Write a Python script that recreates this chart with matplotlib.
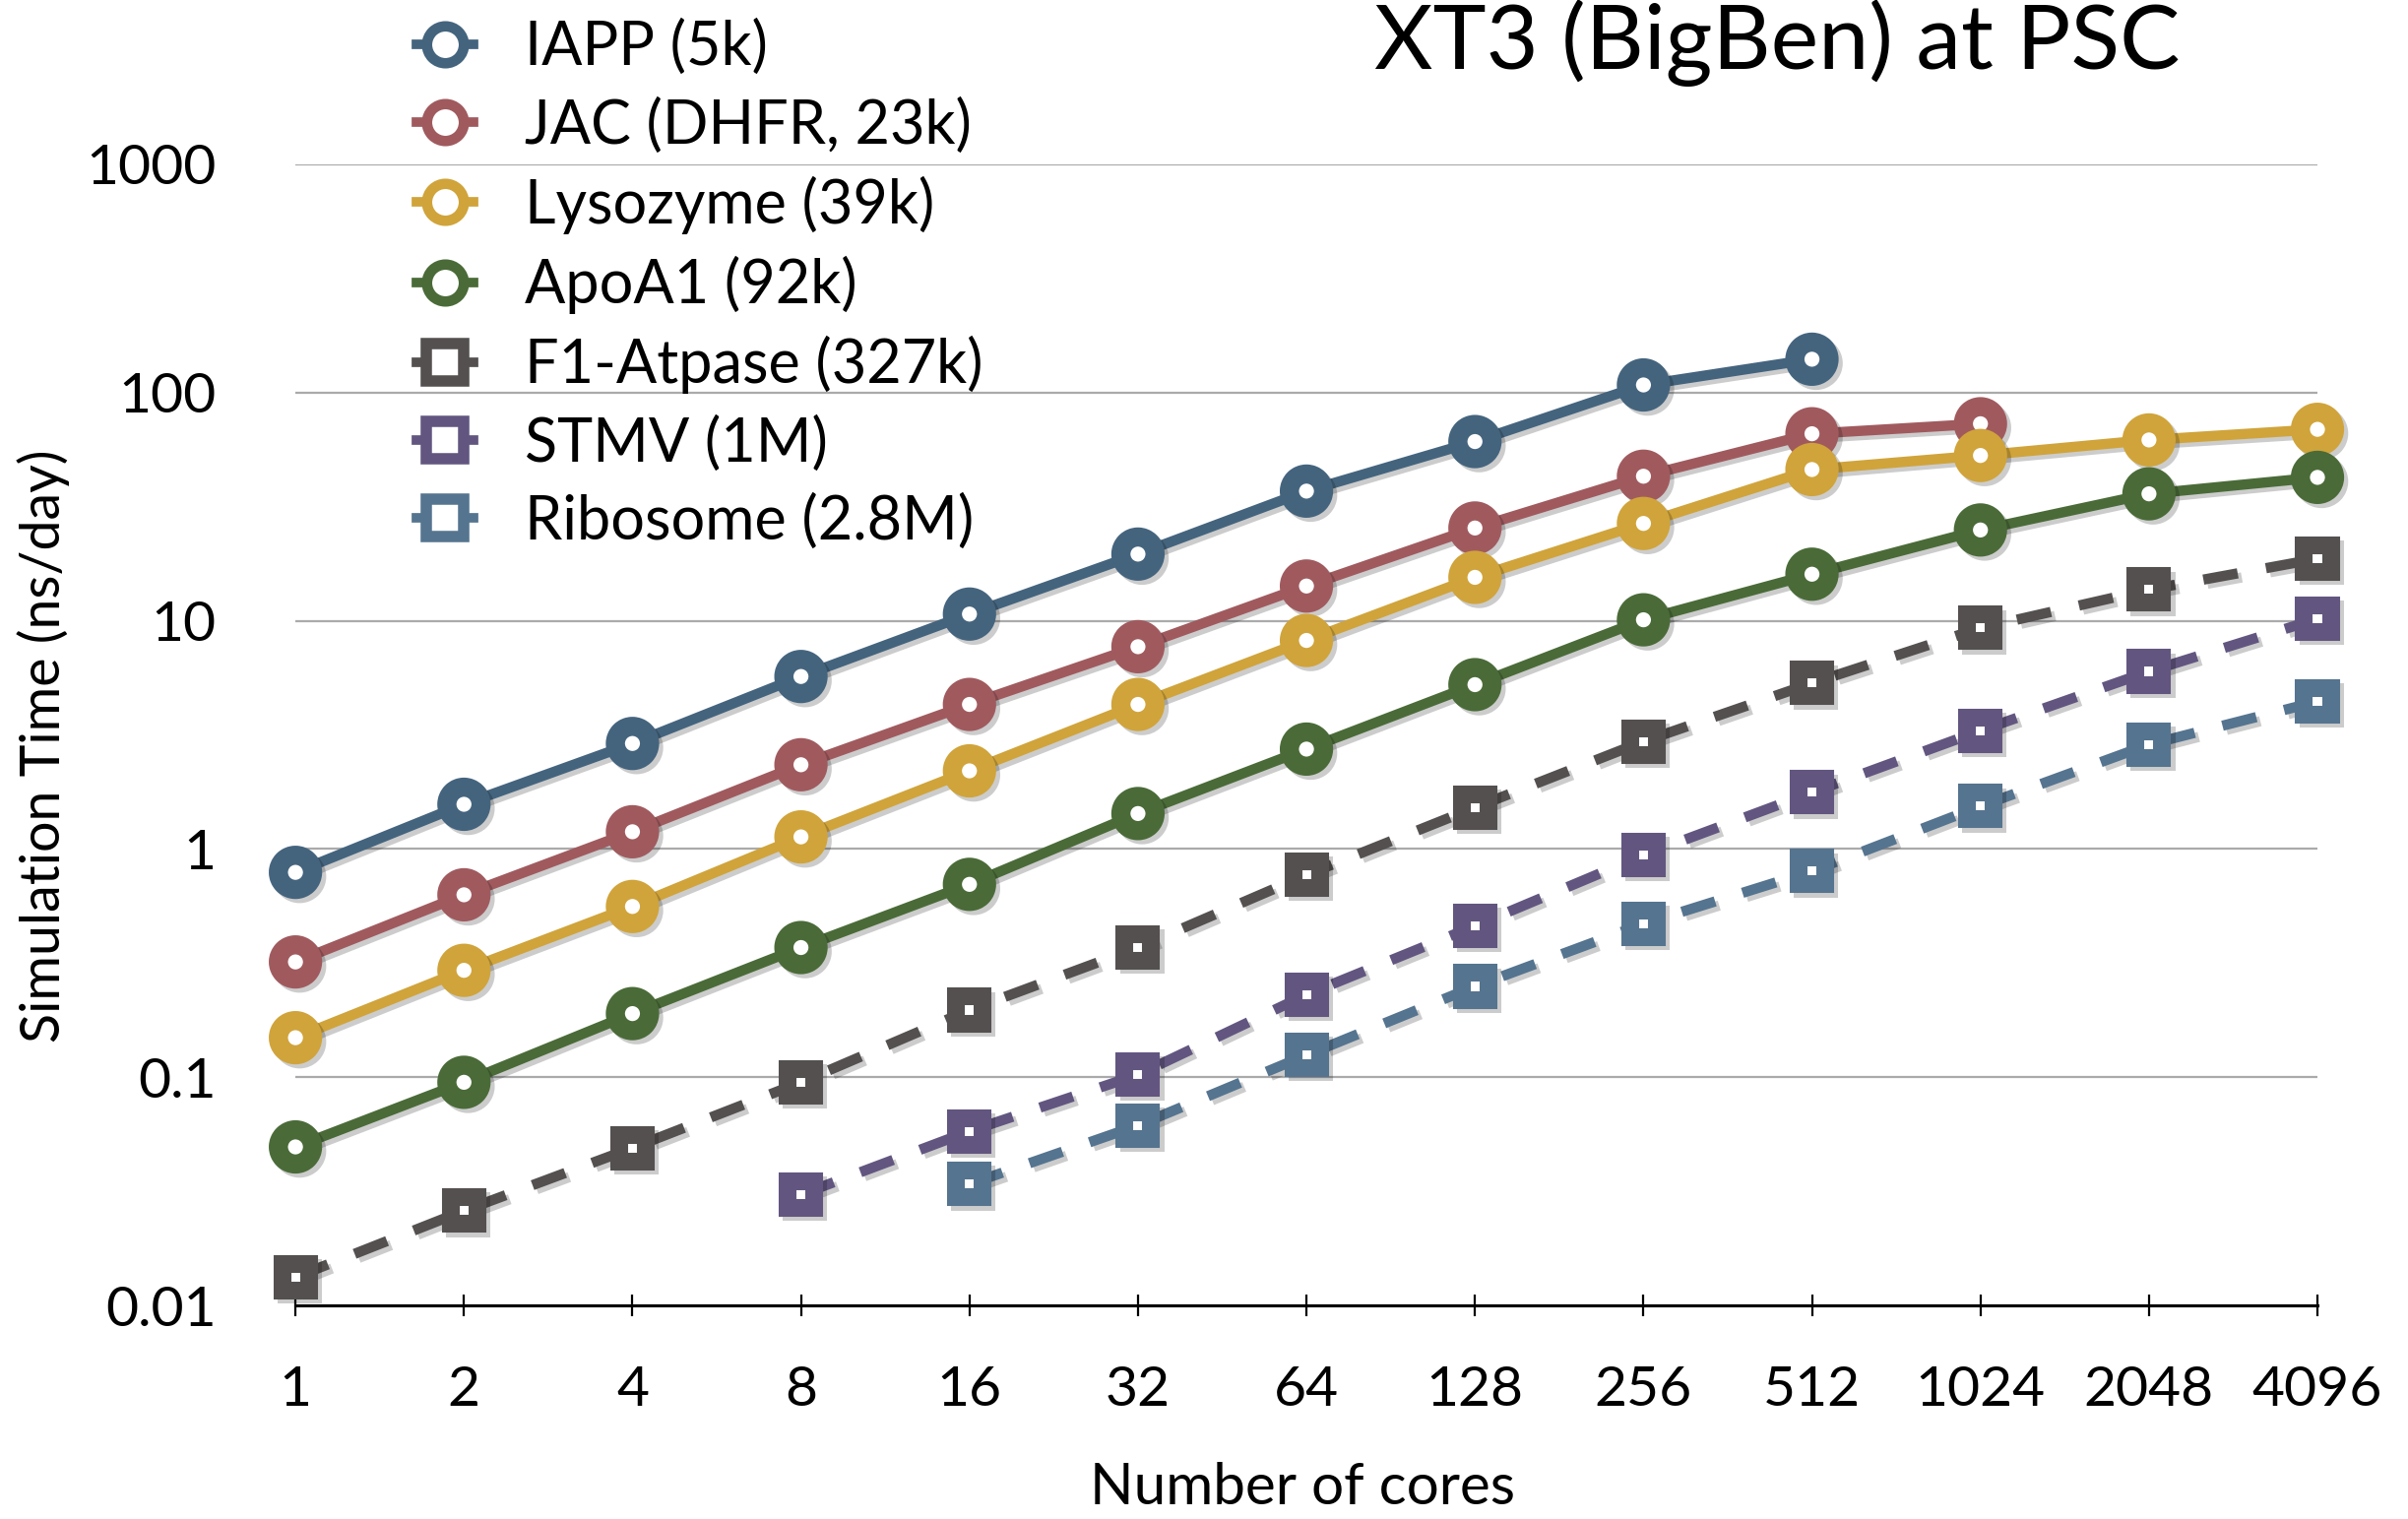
import matplotlib
matplotlib.use("Agg")
import matplotlib.pyplot as plt
import matplotlib.patheffects as pe
from matplotlib.lines import Line2D

plt.rcParams['font.family'] = ['Lato', 'DejaVu Sans']

# number of cores on the x axis
cores = [1, 2, 4, 8, 16, 32, 64, 128, 256, 512, 1024, 2048, 4096]

# simulation speed (ns/day)
iapp = [0.79, 1.57, 2.9, 5.7, 10.7, 19.6, 37, 61, 108, 140]
jac = [0.32, 0.63, 1.19, 2.34, 4.3, 7.7, 14.2, 25.5, 43, 66, 73]
lysozyme = [0.149, 0.294, 0.56, 1.13, 2.2, 4.3, 8.2, 15.5, 26.7, 46, 53, 62, 69]
apoa1 = [0.0495, 0.095, 0.19, 0.37, 0.70, 1.43, 2.74, 5.25, 10.1, 16.0, 25, 36, 42.5]
f1atpase = [0.0133, 0.026, 0.049, 0.095, 0.197, 0.37, 0.77, 1.52, 2.96, 5.33, 9.3, 13.7, 18.7]
stmv = [0.0306, 0.058, 0.1025, 0.23, 0.46, 0.94, 1.77, 3.3, 6.0, 10.2]
ribosome = [0.034, 0.0615, 0.125, 0.25, 0.47, 0.80, 1.54, 2.87, 4.43]

labels = ["IAPP (5k)", "JAC (DHFR, 23k)", "Lysozyme (39k)", "ApoA1 (92k)",
          "F1-Atpase (327k)", "STMV (1M)", "Ribosome (2.8M)"]
colors = ["#44647e", "#a05a5e", "#d0a43a", "#4a6b38", "#555050", "#625680", "#55748f"]

series = [
    (cores[:10], iapp, "o"),
    (cores[:11], jac, "o"),
    (cores, lysozyme, "o"),
    (cores, apoa1, "o"),
    (cores, f1atpase, "s"),
    (cores[3:], stmv, "s"),
    (cores[4:], ribosome, "s"),
]

fig = plt.figure(figsize=(24.46, 15.43), dpi=100)
ax = fig.add_axes([0.1227, 0.1406, 0.9624 - 0.1227, 0.8918 - 0.1406])

shadow = [pe.SimpleLineShadow(offset=(3, -3), shadow_color="k", alpha=0.2), pe.Normal()]

for (x, y, m), c in zip(series, colors):
    if m == "o":
        ax.plot(x, y, color=c, lw=7.5, marker="o", ms=25, mew=14,
                mec=c, mfc="white", path_effects=shadow, clip_on=False)
    else:
        ax.plot(x, y, color=c, lw=7.5, ls=(0, (3.4, 2.8)), marker="s", ms=19.5,
                mew=13, mec=c, mfc="white", path_effects=shadow, clip_on=False)

ax.set_xscale("log", base=2)
ax.set_yscale("log")
ax.set_xlim(1, 4096)
ax.set_ylim(0.01, 1000)

ax.set_xticks(cores)
ax.set_xticklabels([str(c) for c in cores])
ax.set_yticks([0.01, 0.1, 1, 10, 100, 1000])
ax.set_yticklabels(["0.01", "0.1", "1", "10", "100", "1000"])
ax.minorticks_off()

ax.grid(axis="y", color="#aaaaaa", lw=1.6)
ax.set_axisbelow(True)
for s in ["top", "right", "left"]:
    ax.spines[s].set_visible(False)
ax.spines["bottom"].set_linewidth(2.2)
ax.tick_params(axis="x", direction="inout", length=16, width=1.6, pad=36, labelsize=41)
ax.tick_params(axis="y", length=0, pad=58, labelsize=41)

fig.text(0.738, 0.9546, "XT3 (BigBen) at PSC", ha="center", va="baseline", fontsize=66)
fig.text(0.541, 0.003, "Number of cores", ha="center", va="bottom", fontsize=42)
fig.text(0.018, 0.509, "Simulation Time (ns/day)", ha="center", va="center",
         rotation=90, fontsize=40)

handles = []
for (x, y, m), c in zip(series, colors):
    if m == "o":
        h = Line2D([], [], color=c, lw=7, marker="o", ms=27, mew=7.6, mec=c, mfc="white")
    else:
        h = Line2D([], [], color=c, lw=7, marker="s", ms=27.7, mew=8.3, mec=c, mfc="white")
    handles.append(h)

fig.legend(handles, labels, loc="upper left", bbox_to_anchor=(0.163, 1.003),
           frameon=False, fontsize=44, handlelength=0.95, handletextpad=0.85,
           labelspacing=0.36, borderaxespad=0)

fig.savefig("out.png", dpi=100)
